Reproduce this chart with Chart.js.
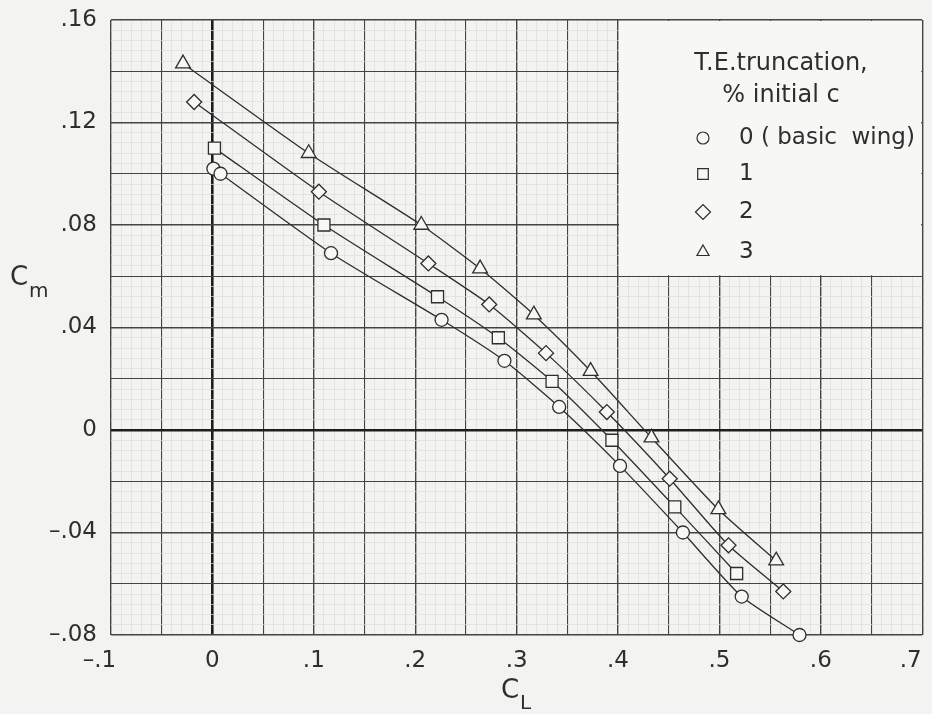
<!DOCTYPE html>
<html>
<head>
<meta charset="utf-8">
<script src="https://cdn.jsdelivr.net/npm/chart.js@4.4.1/dist/chart.umd.min.js"></script>
<style>
  body { margin: 0; background: #f3f3f1; }
  #wrap { width: 932px; height: 714px; }
</style>
</head>
<body>
<div id="wrap"><canvas id="cm-chart" width="932" height="714"></canvas></div>
<script>
// pitching moment vs lift, T.E. truncation series

// 0 (basic wing)
const cl0 = [0.001, 0.008, 0.117, 0.226, 0.288, 0.342, 0.402, 0.464, 0.522, 0.579];
const cm0 = [0.102, 0.100, 0.069, 0.043, 0.027, 0.009, -0.014, -0.040, -0.065, -0.080];
// 1 percent
const cl1 = [0.002, 0.110, 0.222, 0.282, 0.335, 0.394, 0.456, 0.517];
const cm1 = [0.110, 0.080, 0.052, 0.036, 0.019, -0.004, -0.030, -0.056];
// 2 percent
const cl2 = [-0.018, 0.105, 0.213, 0.273, 0.329, 0.389, 0.451, 0.509, 0.563];
const cm2 = [0.128, 0.093, 0.065, 0.049, 0.030, 0.007, -0.019, -0.045, -0.063];
// 3 percent
const cl3 = [-0.029, 0.095, 0.206, 0.264, 0.317, 0.373, 0.433, 0.499, 0.556];
const cm3 = [0.143, 0.108, 0.080, 0.063, 0.045, 0.023, -0.003, -0.031, -0.051];

const seriesLabels = ['0 ( basic  wing)', '1', '2', '3'];
const pointStyles = ['circle', 'rect', 'rectRot', 'triangle'];
const pointSizes = [6.5, 8.5, 7.5, 8.5];
const legendTitle = ['T.E.truncation,', '% initial c'];

const xTicks = [-0.1, 0, 0.1, 0.2, 0.3, 0.4, 0.5, 0.6, 0.7];
const yTicks = [-0.08, -0.04, 0, 0.04, 0.08, 0.12, 0.16];

const FONT = '"DejaVu Sans", sans-serif';
const INK = '#2e2e2e';
const PAPER = '#f7f7f5';

function toPoints(xs, ys) {
  return xs.map((x, i) => ({ x: x, y: ys[i] }));
}

function fmt(v, digits) {
  if (Math.abs(v) < 1e-9) return '0';
  const s = Math.abs(v).toFixed(digits).replace(/^0/, '');
  return v < 0 ? '\u2013' + s : s;
}

const allX = [cl0, cl1, cl2, cl3];
const allY = [cm0, cm1, cm2, cm3];

const datasets = allX.map((xs, i) => ({
  label: seriesLabels[i],
  data: toPoints(xs, allY[i]),
  showLine: true,
  borderColor: INK,
  borderWidth: 1.3,
  tension: 0.2,
  pointStyle: pointStyles[i],
  pointRadius: pointSizes[i],
  pointHoverRadius: pointSizes[i],
  pointBorderColor: INK,
  pointBorderWidth: 1.3,
  pointBackgroundColor: PAPER,
  clip: false
}));

// grid styling: zero line heavy, big squares medium, fine paper lines light
function xGridColor(ctx) {
  const k = Math.round(ctx.tick.value * 100);
  if (k === 0) return '#1e1e1e';
  if (k % 5 === 0) return '#444';
  return '#dddddb';
}
function xGridWidth(ctx) {
  const k = Math.round(ctx.tick.value * 100);
  if (k === 0) return 2.6;
  if (k % 10 === 0) return 1.4;
  if (k % 5 === 0) return 1.1;
  return 0.7;
}
function yGridColor(ctx) {
  const k = Math.round(ctx.tick.value * 1000);
  if (k === 0) return '#1e1e1e';
  if (k % 20 === 0) return '#444';
  return '#dddddb';
}
function yGridWidth(ctx) {
  const k = Math.round(ctx.tick.value * 1000);
  if (k === 0) return 2.6;
  if (k % 40 === 0) return 1.4;
  if (k % 20 === 0) return 1.1;
  return 0.7;
}

// blank legend panel plus its text
const legendPanel = {
  id: 'legendPanel',
  beforeDatasetsDraw(chart) {
    const { ctx, scales: { x, y }, chartArea } = chart;
    const left = x.getPixelForValue(0.4);
    const bottom = y.getPixelForValue(0.06);
    ctx.save();
    ctx.fillStyle = PAPER;
    ctx.fillRect(left + 1, chartArea.top + 1, chartArea.right - left - 2, bottom - chartArea.top - 2);
    ctx.restore();
  },
  afterDraw(chart) {
    const { ctx } = chart;
    ctx.save();
    ctx.fillStyle = INK;
    ctx.font = '24px ' + FONT;
    ctx.textAlign = 'center';
    ctx.textBaseline = 'middle';
    ctx.fillText(legendTitle[0], 781, 64);
    ctx.fillText(legendTitle[1], 781, 96);
    const rows = [138, 174, 212, 252];
    const legendSizes = [6, 7.5, 7.5, 7];
    ctx.font = '23px ' + FONT;
    ctx.textAlign = 'left';
    seriesLabels.forEach((lab, i) => {
      ctx.strokeStyle = INK;
      ctx.lineWidth = 1.2;
      ctx.fillStyle = PAPER;
      Chart.helpers.drawPoint(ctx, { pointStyle: pointStyles[i], radius: legendSizes[i], borderWidth: 1.2 }, 703, rows[i]);
      ctx.fillStyle = INK;
      ctx.fillText(lab, 739, rows[i]);
    });
    ctx.restore();

    // axis titles with subscripts
    ctx.save();
    ctx.fillStyle = INK;
    ctx.textBaseline = 'alphabetic';
    ctx.textAlign = 'left';
    ctx.font = '26px ' + FONT;
    ctx.fillText('C', 10, 285);
    ctx.font = '20px ' + FONT;
    ctx.fillText('m', 29, 297);
    ctx.font = '26px ' + FONT;
    ctx.fillText('C', 501, 698);
    ctx.font = '20px ' + FONT;
    ctx.fillText('L', 520, 709);
    ctx.restore();
  }
};

const ctx = document.getElementById('cm-chart').getContext('2d');
new Chart(ctx, {
  type: 'scatter',
  data: { datasets: datasets },
  plugins: [legendPanel],
  options: {
    responsive: false,
    animation: false,
    events: [],
    layout: { padding: { left: 0, top: 20, right: 7, bottom: 0 } },
    plugins: {
      legend: { display: false },
      tooltip: { enabled: false }
    },
    scales: {
      x: {
        type: 'linear',
        min: xTicks[0],
        max: xTicks[xTicks.length - 1],
        afterFit(scale) {
          scale.height = 79;
          scale.paddingLeft = 0;
          scale.paddingRight = 0;
        },
        border: { display: false },
        grid: { color: xGridColor, lineWidth: xGridWidth, drawTicks: false },
        ticks: {
          stepSize: 0.01,
          autoSkip: false,
          maxRotation: 0,
          padding: 12,
          color: INK,
          font: { family: FONT, size: 23 },
          callback(v) {
            const k = Math.round(v * 100);
            if (k % 10 !== 0) return '';
            if (!xTicks.some(t => Math.round(t * 100) === k)) return '';
            // end labels sit a little left of their grid line, as on the sheet
            const edge = k === -10 || k === 70;
            return fmt(v, 1) + (edge ? '\u2002\u2002' : '');
          }
        }
      },
      y: {
        type: 'linear',
        min: yTicks[0],
        max: yTicks[yTicks.length - 1],
        afterFit(scale) {
          scale.width = 111;
          scale.paddingTop = 0;
          scale.paddingBottom = 0;
        },
        border: { display: false },
        grid: { color: yGridColor, lineWidth: yGridWidth, drawTicks: false },
        ticks: {
          stepSize: 0.004,
          autoSkip: false,
          padding: 14,
          color: INK,
          font: { family: FONT, size: 23 },
          callback(v) {
            const k = Math.round(v * 1000);
            if (k % 40 !== 0) return '';
            return yTicks.some(t => Math.round(t * 1000) === k) ? fmt(v, 2) : '';
          }
        }
      }
    }
  }
});
</script>
</body>
</html>
